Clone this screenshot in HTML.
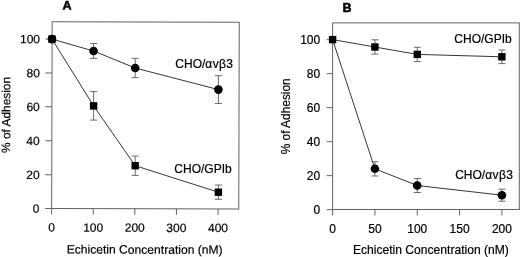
<!DOCTYPE html>
<html><head><meta charset="utf-8"><title>Figure</title>
<style>
html,body{margin:0;padding:0;background:#fff;}
svg{display:block}
text{font-family:"Liberation Sans",Arial,sans-serif;font-size:12px;fill:#000;stroke:#000;stroke-width:0.2px}
.g{letter-spacing:0.4px}
.ttl{font-weight:700;font-size:12.5px;stroke:#000;stroke-width:0.5px}
</style></head><body>
<svg width="520" height="257" viewBox="0 0 520 257">
<rect width="520" height="257" fill="#fff"/>
<g transform="rotate(0.15 145 115)">
<rect x="51.9" y="22.0" width="187.10" height="186.75" fill="none" stroke="#626262" stroke-width="1"/>
<line x1="45.4" y1="208.80" x2="51.9" y2="208.80" stroke="#626262" stroke-width="1"/>
<text x="39.8" y="213.10" text-anchor="end">0</text>
<line x1="45.4" y1="174.90" x2="51.9" y2="174.90" stroke="#626262" stroke-width="1"/>
<text x="39.8" y="179.20" text-anchor="end">20</text>
<line x1="45.4" y1="141.00" x2="51.9" y2="141.00" stroke="#626262" stroke-width="1"/>
<text x="39.8" y="145.30" text-anchor="end">40</text>
<line x1="45.4" y1="107.10" x2="51.9" y2="107.10" stroke="#626262" stroke-width="1"/>
<text x="39.8" y="111.40" text-anchor="end">60</text>
<line x1="45.4" y1="73.20" x2="51.9" y2="73.20" stroke="#626262" stroke-width="1"/>
<text x="39.8" y="77.50" text-anchor="end">80</text>
<line x1="45.4" y1="39.30" x2="51.9" y2="39.30" stroke="#626262" stroke-width="1"/>
<text x="39.8" y="43.60" text-anchor="end">100</text>
<line x1="51.90" y1="208.75" x2="51.90" y2="214.75" stroke="#626262" stroke-width="1"/>
<text x="51.90" y="231.85" text-anchor="middle">0</text>
<line x1="93.50" y1="208.75" x2="93.50" y2="214.75" stroke="#626262" stroke-width="1"/>
<text x="93.50" y="231.85" text-anchor="middle">100</text>
<line x1="135.10" y1="208.75" x2="135.10" y2="214.75" stroke="#626262" stroke-width="1"/>
<text x="135.10" y="231.85" text-anchor="middle">200</text>
<line x1="176.70" y1="208.75" x2="176.70" y2="214.75" stroke="#626262" stroke-width="1"/>
<text x="176.70" y="231.85" text-anchor="middle">300</text>
<line x1="218.30" y1="208.75" x2="218.30" y2="214.75" stroke="#626262" stroke-width="1"/>
<text x="218.30" y="231.85" text-anchor="middle">400</text>
<text x="62.2" y="9.7" class="ttl">A</text>
<text x="145" y="253.7" text-anchor="middle" style="font-size:12.1px">Echicetin Concentration (nM)</text>
<text transform="translate(10.2,115.3) rotate(-90)" text-anchor="middle" style="font-size:11.9px">% of Adhesion</text>
</g>
<g>
<polyline points="52.0,39.1 93.6,51.0 135.2,68.0 218.4,89.6" fill="none" stroke="#2a2a2a" stroke-width="0.95"/>
<circle cx="52.0" cy="39.1" r="4.3" fill="#000"/>
<path d="M93.6 43.5V58.4M90.1 43.5h7M90.1 58.4h7" stroke="#6a6a6a" stroke-width="1" fill="none"/>
<circle cx="93.6" cy="51.0" r="4.3" fill="#000"/>
<path d="M135.2 58.3V77.7M131.7 58.3h7M131.7 77.7h7" stroke="#6a6a6a" stroke-width="1" fill="none"/>
<circle cx="135.2" cy="68.0" r="4.3" fill="#000"/>
<path d="M218.4 75.7V103.5M214.9 75.7h7M214.9 103.5h7" stroke="#6a6a6a" stroke-width="1" fill="none"/>
<circle cx="218.4" cy="89.6" r="4.3" fill="#000"/>
<polyline points="52.0,39.1 93.6,105.9 135.2,165.7 218.4,192.2" fill="none" stroke="#2a2a2a" stroke-width="0.95"/>
<rect x="48.3" y="35.4" width="7.4" height="7.4" fill="#000"/>
<path d="M93.6 91.6V120.1M90.1 91.6h7M90.1 120.1h7" stroke="#6a6a6a" stroke-width="1" fill="none"/>
<rect x="89.9" y="102.2" width="7.4" height="7.4" fill="#000"/>
<path d="M135.2 156.1V175.4M131.7 156.1h7M131.7 175.4h7" stroke="#6a6a6a" stroke-width="1" fill="none"/>
<rect x="131.5" y="162.0" width="7.4" height="7.4" fill="#000"/>
<path d="M218.4 185.0V199.3M214.9 185.0h7M214.9 199.3h7" stroke="#6a6a6a" stroke-width="1" fill="none"/>
<rect x="214.7" y="188.5" width="7.4" height="7.4" fill="#000"/>
<text x="175.3" y="68">CHO/<tspan class="g">αvβ</tspan>3</text>
<text x="174.3" y="172.5">CHO/GPIb</text>
</g>
<g>
<rect x="332.6" y="22.9" width="186.70" height="186.60" fill="none" stroke="#626262" stroke-width="1"/>
<line x1="326.8" y1="209.65" x2="332.6" y2="209.65" stroke="#626262" stroke-width="1"/>
<text x="320.20000000000005" y="213.95" text-anchor="end">0</text>
<line x1="326.8" y1="175.65" x2="332.6" y2="175.65" stroke="#626262" stroke-width="1"/>
<text x="320.20000000000005" y="179.95" text-anchor="end">20</text>
<line x1="326.8" y1="141.65" x2="332.6" y2="141.65" stroke="#626262" stroke-width="1"/>
<text x="320.20000000000005" y="145.95" text-anchor="end">40</text>
<line x1="326.8" y1="107.65" x2="332.6" y2="107.65" stroke="#626262" stroke-width="1"/>
<text x="320.20000000000005" y="111.95" text-anchor="end">60</text>
<line x1="326.8" y1="73.65" x2="332.6" y2="73.65" stroke="#626262" stroke-width="1"/>
<text x="320.20000000000005" y="77.95" text-anchor="end">80</text>
<line x1="326.8" y1="39.65" x2="332.6" y2="39.65" stroke="#626262" stroke-width="1"/>
<text x="320.20000000000005" y="43.95" text-anchor="end">100</text>
<line x1="332.60" y1="209.5" x2="332.60" y2="215.5" stroke="#626262" stroke-width="1"/>
<text x="332.60" y="232.6" text-anchor="middle">0</text>
<line x1="374.93" y1="209.5" x2="374.93" y2="215.5" stroke="#626262" stroke-width="1"/>
<text x="374.93" y="232.6" text-anchor="middle">50</text>
<line x1="417.25" y1="209.5" x2="417.25" y2="215.5" stroke="#626262" stroke-width="1"/>
<text x="417.25" y="232.6" text-anchor="middle">100</text>
<line x1="459.58" y1="209.5" x2="459.58" y2="215.5" stroke="#626262" stroke-width="1"/>
<text x="459.58" y="232.6" text-anchor="middle">150</text>
<line x1="501.90" y1="209.5" x2="501.90" y2="215.5" stroke="#626262" stroke-width="1"/>
<text x="501.90" y="232.6" text-anchor="middle">200</text>
<text x="342.5" y="11.5" class="ttl">B</text>
<text x="430.9" y="253.7" text-anchor="middle" style="font-size:12.1px">Echicetin Concentration (nM)</text>
<text transform="translate(289.9,116.3) rotate(-90)" text-anchor="middle" style="font-size:11.9px">% of Adhesion</text>
</g>
<g>
<polyline points="332.6,39.6 374.9,168.8 417.2,185.5 501.9,195.2" fill="none" stroke="#2a2a2a" stroke-width="0.95"/>
<path d="M374.9 161.7V176.0M371.4 161.7h7M371.4 176.0h7" stroke="#6a6a6a" stroke-width="1" fill="none"/>
<circle cx="374.9" cy="168.8" r="4.3" fill="#000"/>
<path d="M417.2 178.5V192.5M413.8 178.5h7M413.8 192.5h7" stroke="#6a6a6a" stroke-width="1" fill="none"/>
<circle cx="417.2" cy="185.5" r="4.3" fill="#000"/>
<path d="M501.9 189.2V201.2M498.4 189.2h7M498.4 201.2h7" stroke="#6a6a6a" stroke-width="1" fill="none"/>
<circle cx="501.9" cy="195.2" r="4.3" fill="#000"/>
<polyline points="332.6,39.6 374.9,47.0 417.2,54.4 501.9,56.8" fill="none" stroke="#2a2a2a" stroke-width="0.95"/>
<rect x="328.9" y="35.9" width="7.4" height="7.4" fill="#000"/>
<path d="M374.9 39.8V54.1M371.4 39.8h7M371.4 54.1h7" stroke="#6a6a6a" stroke-width="1" fill="none"/>
<rect x="371.2" y="43.3" width="7.4" height="7.4" fill="#000"/>
<path d="M417.2 47.3V61.6M413.8 47.3h7M413.8 61.6h7" stroke="#6a6a6a" stroke-width="1" fill="none"/>
<rect x="413.6" y="50.7" width="7.4" height="7.4" fill="#000"/>
<path d="M501.9 50.0V63.6M498.4 50.0h7M498.4 63.6h7" stroke="#6a6a6a" stroke-width="1" fill="none"/>
<rect x="498.2" y="53.1" width="7.4" height="7.4" fill="#000"/>
<text x="454.3" y="43.3">CHO/GPIb</text>
<text x="455.2" y="179">CHO/<tspan class="g">αvβ</tspan>3</text>
</g>
</svg>
</body></html>
